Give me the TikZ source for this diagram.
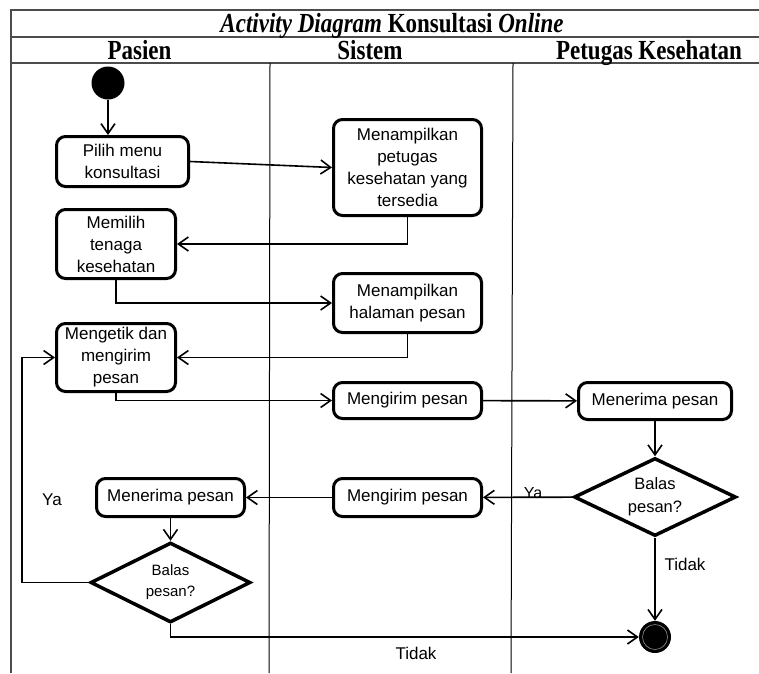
\documentclass[tikz,border=0pt]{standalone}
\usepackage{fontspec}
\usepackage{graphicx}
\setmainfont{Liberation Serif}
\newfontfamily\arialf{Liberation Sans}
\usetikzlibrary{arrows.meta,shapes.geometric}
\begin{document}
\begin{tikzpicture}[x=1pt,y=-1pt,
 act/.style={draw, line width=3pt, rounded corners=9pt, align=center,
   font=\arialf\fontsize{17}{22}\selectfont, inner sep=0pt},
 dec/.style={draw, diamond, line width=3.5pt, align=center, aspect=2,
   font=\arialf\fontsize{16.5}{23}\selectfont, inner sep=0pt},
 flow/.style={line width=1.6pt, -{Straight Barb[length=10pt,width=14pt,line width=1.6pt]}},
 lbl/.style={font=\arialf\fontsize{17}{20}\selectfont, inner sep=0pt},
 hdr/.style={font=\fontsize{23}{27}\bfseries, inner sep=0pt, anchor=base},
 gridl/.style={line width=1.5pt, draw=black!70},
 lanel/.style={line width=1pt}]
\useasboundingbox (0,0) rectangle (759,673);
% table
\draw[gridl] (759,10) -- (11,10) -- (11,673);
\draw[gridl] (11,37) -- (759,37);
\draw[gridl] (11,63) -- (759,63);
\draw[lanel] (270,63) -- (269,673);
\draw[lanel] (513,63) -- (511,673);
\node[hdr] (title) at (392,32) {\scalebox{1}[1.2]{\textit{Activity Diagram} Konsultasi \textit{Online}}};
\node[hdr] (hpasien) at (139.5,59) {\scalebox{1}[1.2]{Pasien}};
\node[hdr] (hsistem) at (370,59) {\scalebox{1}[1.2]{Sistem}};
\node[hdr] (hpetugas) at (649,59) {\scalebox{1}[1.2]{Petugas Kesehatan}};
% nodes
\node[circle, fill=black, minimum size=33pt, inner sep=0pt] (start) at (108,83) {};
\node[act, minimum width=132pt, minimum height=50pt] (pilih) at (122.5,161.5) {Pilih menu\\konsultasi};
\node[act, minimum width=148pt, minimum height=96pt] (tampil1) at (407.5,167.5) {Menampilkan\\petugas\\kesehatan yang\\tersedia};
\node[act, minimum width=119pt, minimum height=69pt] (memilih) at (116,244) {Memilih\\tenaga\\kesehatan};
\node[act, minimum width=148pt, minimum height=59pt] (tampil2) at (407.5,303) {Menampilkan\\halaman pesan};
\node[act, minimum width=119pt, minimum height=68pt] (ketik) at (116,357.5) {Mengetik dan\\mengirim\\pesan};
\node[act, minimum width=148pt, minimum height=36pt] (kirim1) at (407.5,400.5) {Mengirim pesan};
\node[act, minimum width=153pt, minimum height=37pt] (terima1) at (655,401) {Menerima pesan};
\node[dec, minimum width=162pt, minimum height=78pt] (dec1) at (655,497) {Balas\\pesan?};
\node[act, minimum width=148pt, minimum height=38pt] (kirim2) at (407.5,497.5) {Mengirim pesan};
\node[act, minimum width=148pt, minimum height=38pt] (terima2) at (170.5,497.5) {Menerima pesan};
\node[dec, minimum width=160pt, minimum height=80pt, font=\arialf\fontsize{15}{21}\selectfont] (dec2) at (170.5,582.5) {Balas\\pesan?};
\node[circle, fill=black, minimum size=32pt, inner sep=0pt] (end) at (655,637) {};
\draw[black!45, line width=0.6pt] (end.center) circle (12.5);
% connectors
\coordinate (loopL) at (22,582.5);
\draw[flow] (start) -- (start |- pilih.north);
\draw[flow] (pilih.east) -- (tampil1.west);
\draw[flow] (tampil1.south) |- (memilih.east);
\draw[flow] (memilih.south) |- (tampil2.west);
\draw[flow] (tampil2.south) |- (ketik.east);
\draw[flow] (ketik.south) |- (kirim1.west);
\draw[flow] (kirim1) -- (terima1);
\draw[flow] (terima1) -- (dec1);
\draw[flow] (dec1) -- (kirim2);
\draw[flow] (kirim2) -- (terima2);
\draw[flow] (terima2) -- (dec2);
\draw[flow] (dec2.west) -- (loopL) |- (ketik.west);
\draw[flow] (dec2.south) |- (end.west);
\draw[flow] (dec1.south) -- (end.north);
% labels
\node[lbl, font=\arialf\fontsize{16}{20}\selectfont] (ya1) at (533,493) {Ya};
\node[lbl] (ya2) at (52,500) {Ya};
\node[lbl] (tidak1) at (685,564) {Tidak};
\node[lbl] (tidak2) at (416,653) {Tidak};
\end{tikzpicture}
\end{document}
